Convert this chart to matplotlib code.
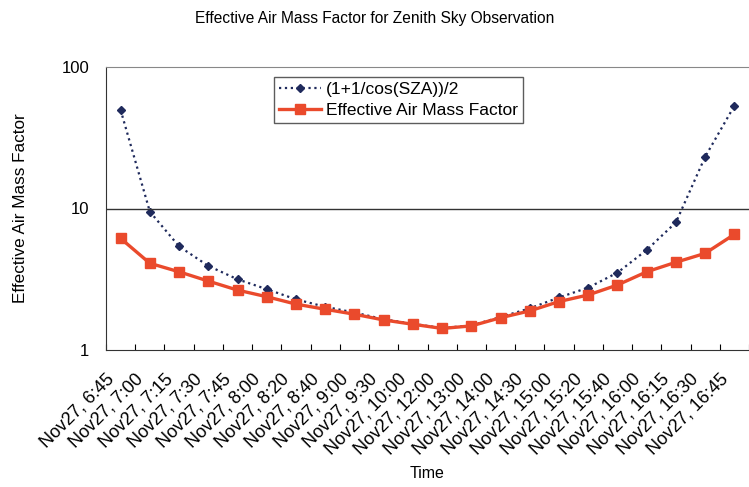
import numpy as np
import matplotlib.pyplot as plt
from matplotlib.transforms import ScaledTranslation

plt.rcParams['font.family'] = ['Liberation Sans', 'DejaVu Sans']

# Datos
horas = ['6:45', '7:00', '7:15', '7:30', '7:45', '8:00', '8:20', '8:40', '9:00', '9:30', '10:00',
         '12:00', '13:00', '14:00', '14:30', '15:00', '15:20', '15:40', '16:00', '16:15', '16:30', '16:45']
etiquetas = ['Nov27, ' + h for h in horas]
geometrico = [49.7, 9.5, 5.4, 3.93, 3.16, 2.69, 2.28, 2.02, 1.84, 1.65, 1.53,
              1.43, 1.49, 1.71, 1.97, 2.35, 2.76, 3.52, 5.09, 7.98, 23.2, 53.2]
efectivo = [6.15, 4.1, 3.57, 3.07, 2.65, 2.38, 2.11, 1.94, 1.79, 1.63, 1.52,
            1.42, 1.48, 1.69, 1.89, 2.2, 2.45, 2.88, 3.57, 4.17, 4.82, 6.57]

x = np.arange(len(etiquetas))

fig = plt.figure(figsize=(7.49, 4.87), dpi=100)
ax = fig.add_axes([106/749, 1 - 350/487, 1 - 106/749, (350 - 67)/487])

ax.plot(x, geometrico, color='#1f2a5c', linestyle=':', linewidth=1.6,
        marker='D', markersize=4, label='(1+1/cos(SZA))/2')
ax.plot(x, efectivo, color='#ea4a2c', linestyle='-', linewidth=2.4,
        marker='s', markersize=7, label='Effective Air Mass Factor')

ax.set_yscale('log')
ax.set_ylim(1, 100)
ax.set_xlim(-0.5, len(x) - 0.5)
ax.set_yticks([1, 10, 100])
ax.set_yticklabels(['1', '10', '100'], fontsize=12)
ax.yaxis.set_minor_locator(plt.NullLocator())
ax.tick_params(axis='y', length=0, pad=12)
ax.axhline(10, color='#333333', linewidth=1)

ax.set_xticks(x)
ax.set_xticklabels(etiquetas, rotation=45, ha='right', va='center',
                   rotation_mode='anchor', fontsize=13)
ax.set_xticks(np.arange(len(x) + 1) - 0.5, minor=True)
ax.tick_params(axis='x', which='major', length=0, pad=19)
ax.tick_params(axis='x', which='minor', direction='in', length=4, width=0.8)
desplaza = ScaledTranslation(-9/100, 0, fig.dpi_scale_trans)
for lbl in ax.get_xticklabels():
    lbl.set_transform(lbl.get_transform() + desplaza)

ax.spines['right'].set_visible(False)
ax.spines['top'].set_color('#888888')
ax.spines['top'].set_linestyle((0, (4, 1)))
ax.spines['left'].set_color('#333333')
ax.spines['bottom'].set_color('#333333')

ax.set_xlabel('Time', fontsize=11.5, labelpad=6)
ax.set_ylabel('Effective Air Mass Factor', fontsize=12.3, labelpad=24)
fig.text(375/749, 1 - 18/487, 'Effective Air Mass Factor for Zenith Sky Observation',
         ha='center', va='center', fontsize=11.2)

leg = ax.legend(loc='upper left', bbox_to_anchor=((274 - 106) / 643, 1 - 10/283),
                fontsize=12.5, frameon=True, fancybox=False, edgecolor='#333333',
                borderpad=0.3, handlelength=2.4, handletextpad=0.3, labelspacing=0.3,
                borderaxespad=0)
leg.get_frame().set_linewidth(1)

plt.savefig('out.png', dpi=100)
